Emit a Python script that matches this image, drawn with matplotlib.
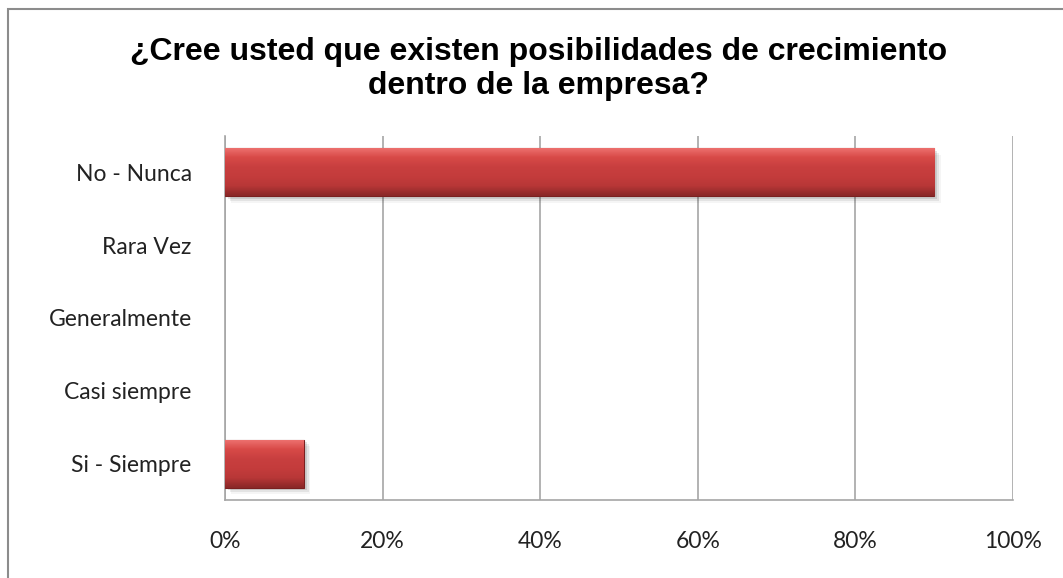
import matplotlib.pyplot as plt
import numpy as np
from matplotlib.patches import Rectangle
from matplotlib.colors import LinearSegmentedColormap

categories = ["No - Nunca", "Rara Vez", "Generalmente", "Casi siempre", "Si - Siempre"]
values = [0.90, 0.0, 0.0, 0.0, 0.10]
xticks = [0, 0.2, 0.4, 0.6, 0.8, 1.0]
xtick_labels = ["0%", "20%", "40%", "60%", "80%", "100%"]
title = "¿Cree usted que existen posibilidades de crecimiento\ndentro de la empresa?"

fig = plt.figure(figsize=(10.63, 5.78), dpi=100)
ax = fig.add_axes([225 / 1063, 1 - 500 / 578, 788 / 1063, 364 / 578])

# outer chart border (runs off the right and bottom edges)
fig.patches.append(Rectangle((8 / 1063, -0.1), 1.2, 1 - 9 / 578 + 0.1,
                             transform=fig.transFigure, fill=False,
                             edgecolor="#8c8c8c", linewidth=1.5))

y = np.arange(len(categories))
height = 0.66

# soft shadow under bars
for yi, v in zip(y, values):
    if v > 0:
        for k, a in enumerate([0.10, 0.07, 0.04]):
            ax.add_patch(Rectangle((0.004 + k * 0.002, yi - height / 2 + 0.03 + k * 0.03),
                                   v, height, facecolor="black", alpha=a,
                                   edgecolor="none", zorder=2))

edges = ["#7a2020" if v > 0 else "none" for v in values]
bars = ax.barh(y, values, height=height, color="#c63e3e",
               edgecolor=edges, linewidth=0.8, zorder=3)

# vertical gradient for a bevelled look (light top, dark bottom)
cmap = LinearSegmentedColormap.from_list("bar", ["#ee7270", "#d84a48", "#c83f3f",
                                                 "#c43c3c", "#b83737", "#8a2828"])
for b in bars:
    if b.get_width() <= 0:
        continue
    x0, y0 = b.get_x(), b.get_y()
    w, h = b.get_width(), b.get_height()
    im = ax.imshow(np.linspace(1, 0, 50).reshape(-1, 1), cmap=cmap, aspect="auto",
                   extent=[x0, x0 + w, y0, y0 + h], origin="upper", zorder=3.5)
    im.set_clip_path(b)

ax.set_xlim(0, 1)
ax.set_ylim(len(categories) - 0.5, -0.5)
ax.set_xticks(xticks)
ax.set_xticklabels(xtick_labels)
ax.set_yticks(y)
ax.set_yticklabels(categories)
ax.tick_params(axis="both", length=0, labelsize=16.5, colors="#222222")
ax.tick_params(axis="y", pad=24)
ax.tick_params(axis="x", pad=22)
for lbl in ax.get_xticklabels() + ax.get_yticklabels():
    lbl.set_family("Lato")

ax.grid(axis="x", color="#a6a6a6", linewidth=1.2, zorder=0)
ax.set_axisbelow(True)
for s in ["top", "right"]:
    ax.spines[s].set_visible(False)
for s in ["left", "bottom"]:
    ax.spines[s].set_color("#a6a6a6")
    ax.spines[s].set_linewidth(1.2)

fig.text(0.507, 1 - 69 / 578, title, ha="center", va="center",
         fontsize=23, fontweight="bold", family="Liberation Sans",
         linespacing=1.15, color="black")

fig.savefig("out.png", dpi=100)
